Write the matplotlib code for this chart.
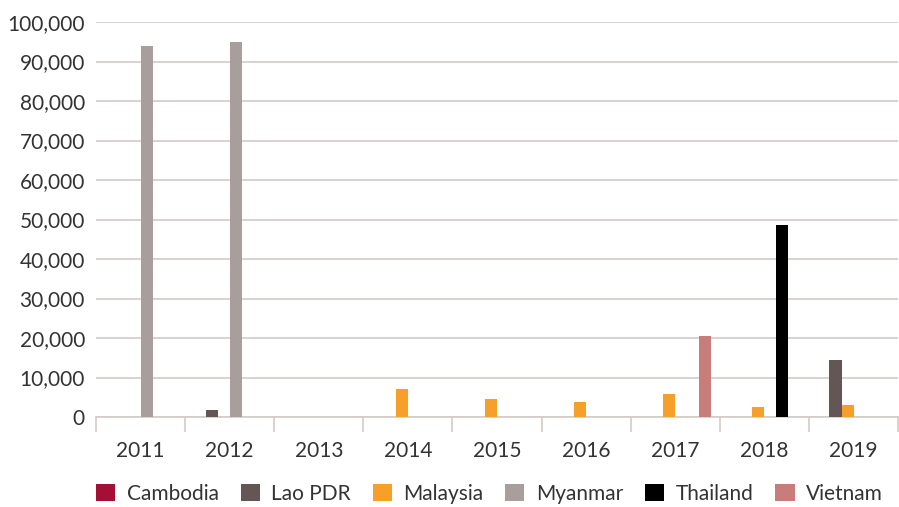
import numpy as np
import matplotlib
matplotlib.use("Agg")
import matplotlib.pyplot as plt
from matplotlib.ticker import FuncFormatter, FixedLocator

years = ['2011', '2012', '2013', '2014', '2015', '2016', '2017', '2018', '2019']
countries = ['Cambodia', 'Lao PDR', 'Malaysia', 'Myanmar', 'Thailand', 'Vietnam']

cambodia = [100, 100, 100, 100, 100, 100, 100, 100, 100]
lao = [100, 1800, 100, 100, 100, 100, 100, 100, 14500]
malaysia = [100, 100, 100, 7100, 4600, 3800, 5800, 2500, 3000]
myanmar = [94000, 95000, 100, 100, 100, 100, 100, 100, 100]
thailand = [100, 100, 100, 100, 100, 100, 100, 48700, 100]
vietnam = [100, 100, 100, 100, 100, 100, 20500, 100, 100]

series = [cambodia, lao, malaysia, myanmar, thailand, vietnam]
colors = ['#A50F36', '#635654', '#F79F2B', '#A89E9C', '#000000', '#C97D7B']

plt.rcParams['font.family'] = ['Lato', 'DejaVu Sans']

fig = plt.figure(figsize=(8.99, 5.07), dpi=100)
ax = fig.add_axes([0.1068, 0.1775, 0.8922, 0.7791])

x = np.arange(len(years))
w = 0.135
for i, (vals, c, name) in enumerate(zip(series, colors, countries)):
    ax.bar(x + (i - 2.5) * w, vals, width=w, color=c, label=name, zorder=3)

ax.set_xlim(-0.5, len(years) - 0.5)
ax.set_ylim(0, 100000)
ax.yaxis.set_major_locator(FixedLocator(np.arange(0, 100001, 10000)))
ax.yaxis.set_major_formatter(FuncFormatter(lambda v, p: f'{int(v):,}'))
ax.grid(True, axis='y', color='#D3CBC6', linewidth=1.2, zorder=0)

ax.set_xticks(x)
ax.set_xticklabels(years)
ax.set_xticks(np.arange(-0.5, len(years), 1), minor=True)
ax.tick_params(axis='x', which='major', length=0, pad=17)
ax.tick_params(axis='x', which='minor', length=11, width=1.2, color='#D3CBC6')
ax.tick_params(axis='y', length=0, pad=8)
ax.tick_params(labelsize=15, labelcolor='#333333')

for s in ['top', 'right', 'left']:
    ax.spines[s].set_visible(False)
ax.spines['bottom'].set_color('#D3CBC6')
ax.spines['bottom'].set_linewidth(1.2)
ax.spines['bottom'].set_zorder(2)

leg = fig.legend(loc='center left', bbox_to_anchor=(0.1068, 0.026), ncol=6, frameon=False,
                 borderpad=0, borderaxespad=0,
                 handlelength=0.92, handleheight=0.92, handletextpad=0.55,
                 columnspacing=1.05, prop={'size': 15})
for t in leg.get_texts():
    t.set_color('#333333')

fig.savefig('out.png', dpi=100)
